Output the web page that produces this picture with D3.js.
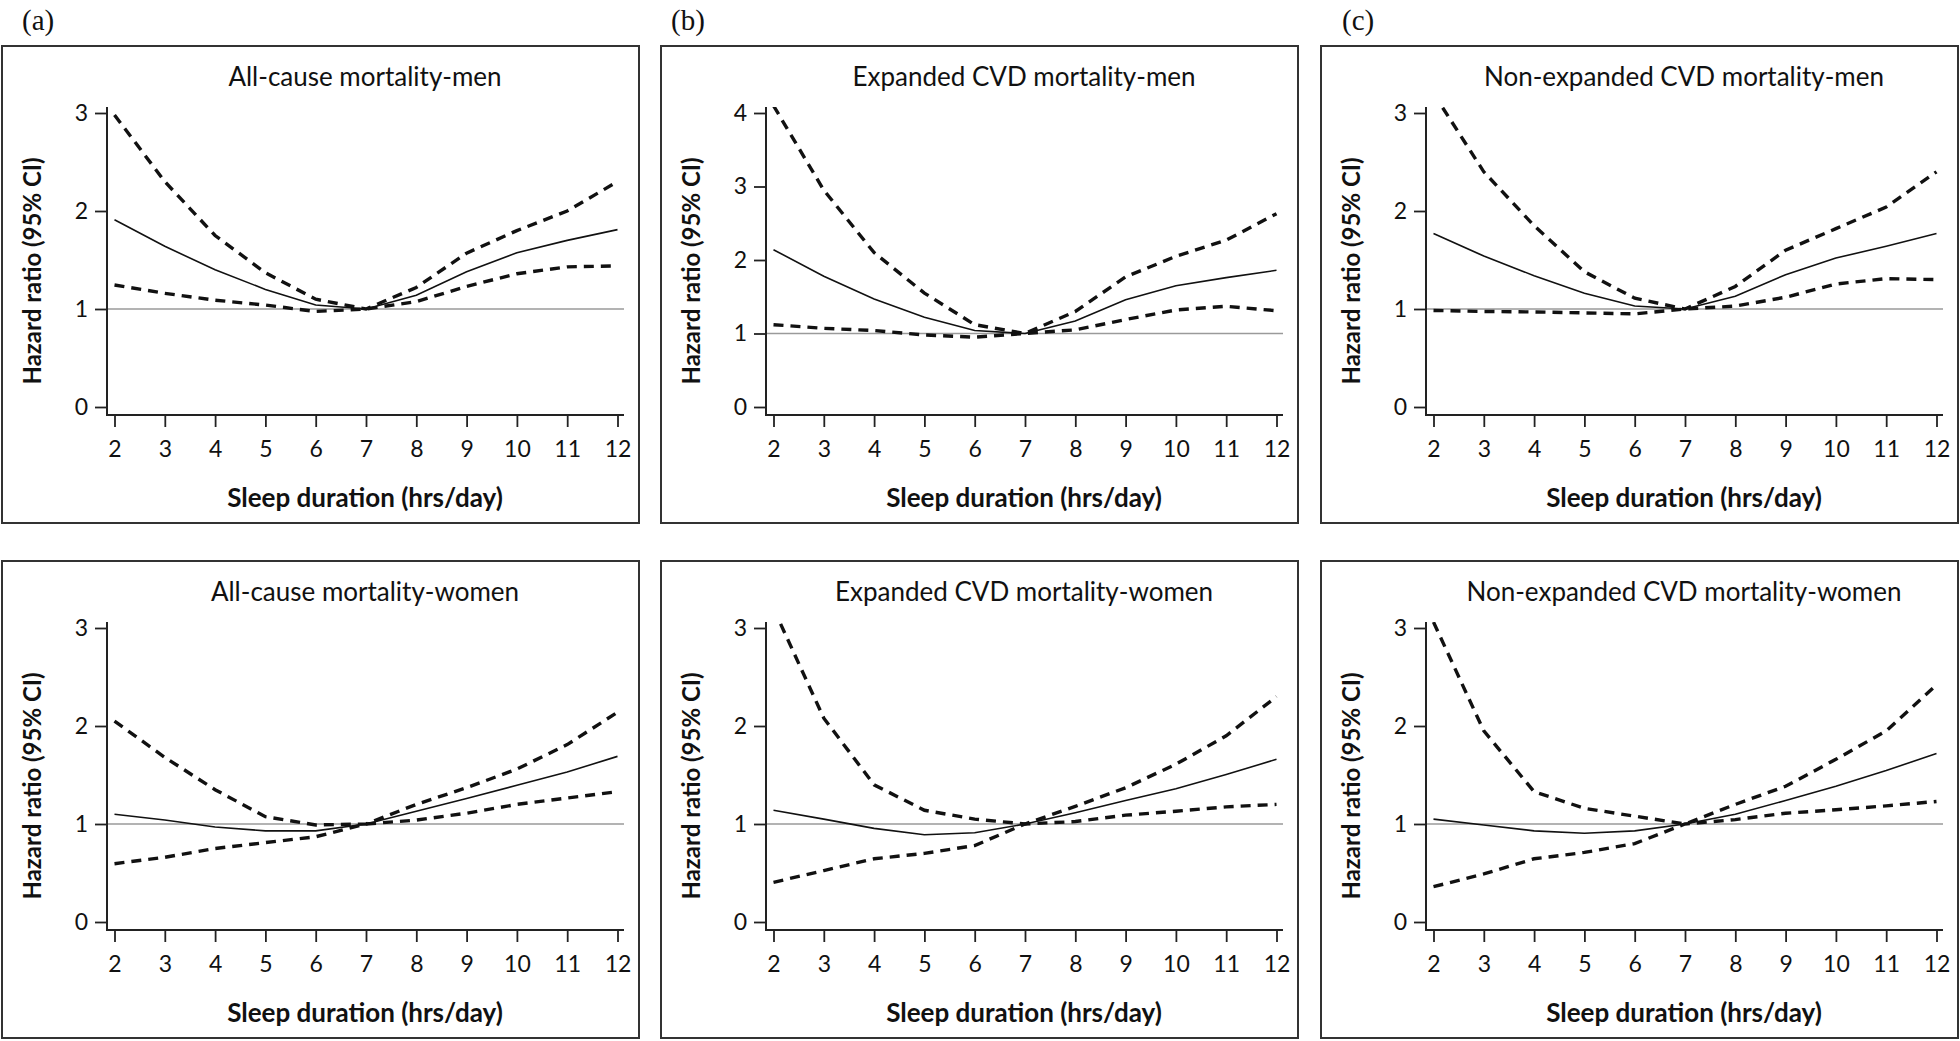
<!DOCTYPE html>
<html><head><meta charset="utf-8">
<script src="https://cdn.jsdelivr.net/npm/d3@7"></script>
<style>body{margin:0;background:#fff}svg{display:block}</style>
</head><body>
<svg id="chart" width="1960" height="1041"></svg>
<script>
// ---------- data ----------
const hours = [2, 3, 4, 5, 6, 7, 8, 9, 10, 11, 12];
const panelTitles = [
  "All-cause mortality-men", "Expanded CVD mortality-men", "Non-expanded CVD mortality-men",
  "All-cause mortality-women", "Expanded CVD mortality-women", "Non-expanded CVD mortality-women"
];
const columnLetters = ["(a)", "(b)", "(c)"];
const yTicks3 = [0, 1, 2, 3];
const yTicks4 = [0, 1, 2, 3, 4];
const xTitle = "Sleep duration (hrs/day)";
const yTitle = "Hazard ratio (95% CI)";

// All-cause men
const allMenEst = [1.91, 1.64, 1.40, 1.20, 1.04, 1.00, 1.14, 1.38, 1.575, 1.70, 1.81];
const allMenLo  = [1.245, 1.16, 1.09, 1.04, 0.975, 1.00, 1.075, 1.23, 1.36, 1.43, 1.44];
const allMenHi  = [2.98, 2.30, 1.75, 1.37, 1.10, 1.00, 1.22, 1.57, 1.80, 2.00, 2.30];
// Expanded CVD men
const expMenEst = [2.14, 1.78, 1.47, 1.22, 1.04, 1.00, 1.17, 1.46, 1.65, 1.76, 1.86];
const expMenLo  = [1.12, 1.07, 1.04, 0.98, 0.95, 1.00, 1.05, 1.19, 1.32, 1.37, 1.31];
const expMenHi  = [4.10, 2.95, 2.10, 1.55, 1.12, 1.00, 1.30, 1.77, 2.05, 2.27, 2.63];
// Non-expanded CVD men
const nonMenEst = [1.77, 1.54, 1.34, 1.16, 1.03, 1.00, 1.13, 1.35, 1.52, 1.64, 1.77];
const nonMenLo  = [0.985, 0.975, 0.97, 0.96, 0.95, 1.00, 1.03, 1.12, 1.255, 1.31, 1.30];
const nonMenHi  = [3.20, 2.40, 1.85, 1.38, 1.11, 1.00, 1.23, 1.60, 1.82, 2.04, 2.40];
// All-cause women
const allWomEst = [1.10, 1.04, 0.97, 0.93, 0.93, 1.00, 1.13, 1.26, 1.395, 1.53, 1.69];
const allWomLo  = [0.595, 0.66, 0.75, 0.81, 0.87, 1.00, 1.04, 1.11, 1.20, 1.265, 1.33];
const allWomHi  = [2.05, 1.68, 1.35, 1.075, 0.99, 1.00, 1.20, 1.37, 1.56, 1.81, 2.14];
// Expanded CVD women
const expWomEst = [1.14, 1.05, 0.955, 0.89, 0.91, 1.00, 1.115, 1.24, 1.36, 1.505, 1.66];
const expWomLo  = [0.405, 0.525, 0.645, 0.70, 0.78, 1.00, 1.025, 1.09, 1.13, 1.175, 1.20];
const expWomHi  = [3.20, 2.08, 1.40, 1.14, 1.05, 1.00, 1.18, 1.37, 1.61, 1.90, 2.30];
// Non-expanded CVD women
const nonWomEst = [1.05, 0.99, 0.93, 0.905, 0.93, 1.00, 1.10, 1.24, 1.385, 1.545, 1.72];
const nonWomLo  = [0.36, 0.49, 0.645, 0.71, 0.80, 1.00, 1.045, 1.11, 1.145, 1.185, 1.23];
const nonWomHi  = [3.06, 1.95, 1.33, 1.16, 1.08, 1.00, 1.20, 1.385, 1.66, 1.95, 2.42];

const panels = [
  {title: panelTitles[0], ticks: yTicks3, est: allMenEst, lo: allMenLo, hi: allMenHi},
  {title: panelTitles[1], ticks: yTicks4, est: expMenEst, lo: expMenLo, hi: expMenHi},
  {title: panelTitles[2], ticks: yTicks3, est: nonMenEst, lo: nonMenLo, hi: nonMenHi},
  {title: panelTitles[3], ticks: yTicks3, est: allWomEst, lo: allWomLo, hi: allWomHi},
  {title: panelTitles[4], ticks: yTicks3, est: expWomEst, lo: expWomLo, hi: expWomHi},
  {title: panelTitles[5], ticks: yTicks3, est: nonWomEst, lo: nonWomLo, hi: nonWomHi}
];

// ---------- layout ----------
const colLeft = [2, 661, 1321];
const rowTop = [46, 561];
const boxW = 637, boxH = 477;
const letterX = [22, 671, 1342];
const FONT = "Lato, 'Open Sans', sans-serif";

const svg = d3.select("#chart");

columnLetters.forEach((t, i) => {
  svg.append("text").attr("x", letterX[i]).attr("y", 30)
    .attr("font-family", "'Liberation Serif', 'Times New Roman', serif")
    .attr("font-size", 29).attr("fill", "#111").text(t);
});

panels.forEach((p, i) => {
  const col = i % 3, row = Math.floor(i / 3);
  const L = colLeft[col], T = rowTop[row];
  const g = svg.append("g").attr("transform", `translate(${L},${T})`);

  g.append("rect").attr("x", 0).attr("y", 0).attr("width", boxW).attr("height", boxH)
    .attr("fill", "none").attr("stroke", "#333").attr("stroke-width", 2);

  const yMax = d3.max(p.ticks);
  const x = d3.scaleLinear().domain([2, 12]).range([112.5, 615.5]);
  const y = d3.scaleLinear().domain([0, yMax]).range([361, 67]);
  const axisX0 = 105, axisX1 = 622, axisY = 369, axisTop = 61;

  const cid = `clip${i}`;
  g.append("clipPath").attr("id", cid).append("rect")
    .attr("x", axisX0).attr("y", axisTop).attr("width", axisX1 - axisX0).attr("height", axisY - axisTop);

  // title
  g.append("text").attr("x", 363).attr("y", 40).attr("text-anchor", "middle")
    .attr("font-family", FONT).attr("font-size", 26).attr("fill", "#111").text(p.title);

  // reference line at HR = 1
  g.append("line").attr("x1", axisX0).attr("x2", axisX1).attr("y1", y(1)).attr("y2", y(1))
    .attr("stroke", "#9a9a9a").attr("stroke-width", 1.6);

  // y axis
  const ya = g.append("g").attr("transform", `translate(${axisX0},0)`)
    .call(d3.axisLeft(y).tickValues(p.ticks).tickFormat(d3.format("d"))
      .tickSize(12).tickSizeOuter(0).tickPadding(7));
  ya.select(".domain").remove();
  ya.selectAll(".tick line").attr("stroke", "#222").attr("stroke-width", 1.8);
  ya.selectAll(".tick text").attr("font-family", FONT).attr("font-size", 23).attr("fill", "#111");
  g.append("line").attr("x1", axisX0).attr("x2", axisX0).attr("y1", axisTop).attr("y2", axisY)
    .attr("stroke", "#222").attr("stroke-width", 2);

  // x axis
  const xa = g.append("g").attr("transform", `translate(0,${axisY})`)
    .call(d3.axisBottom(x).tickValues(hours).tickFormat(d3.format("d"))
      .tickSize(12).tickSizeOuter(0).tickPadding(14));
  xa.select(".domain").remove();
  xa.selectAll(".tick line").attr("stroke", "#222").attr("stroke-width", 1.8);
  xa.selectAll(".tick text").attr("font-family", FONT).attr("font-size", 23).attr("fill", "#111");
  g.append("line").attr("x1", axisX0 - 1).attr("x2", axisX1).attr("y1", axisY).attr("y2", axisY)
    .attr("stroke", "#222").attr("stroke-width", 2);

  // axis titles
  g.append("text").attr("x", 363).attr("y", 461).attr("text-anchor", "middle")
    .attr("font-family", FONT).attr("font-weight", "bold").attr("font-size", 26)
    .attr("fill", "#111").text(xTitle);
  g.append("text").attr("transform", `translate(39,225) rotate(-90)`).attr("text-anchor", "middle")
    .attr("font-family", FONT).attr("font-weight", "bold").attr("font-size", 24)
    .attr("fill", "#111").text(yTitle);

  const line = d3.line().x((d, k) => x(hours[k])).y(d => y(d));
  const plot = g.append("g").attr("clip-path", `url(#${cid})`);
  [p.hi, p.lo].forEach(arr => {
    plot.append("path").datum(arr).attr("d", line).attr("fill", "none")
      .attr("stroke", "#111").attr("stroke-width", 3.4).attr("stroke-dasharray", "10,7");
  });
  plot.append("path").datum(p.est).attr("d", line).attr("fill", "none")
    .attr("stroke", "#111").attr("stroke-width", 1.6);
});
</script>
</body></html>
